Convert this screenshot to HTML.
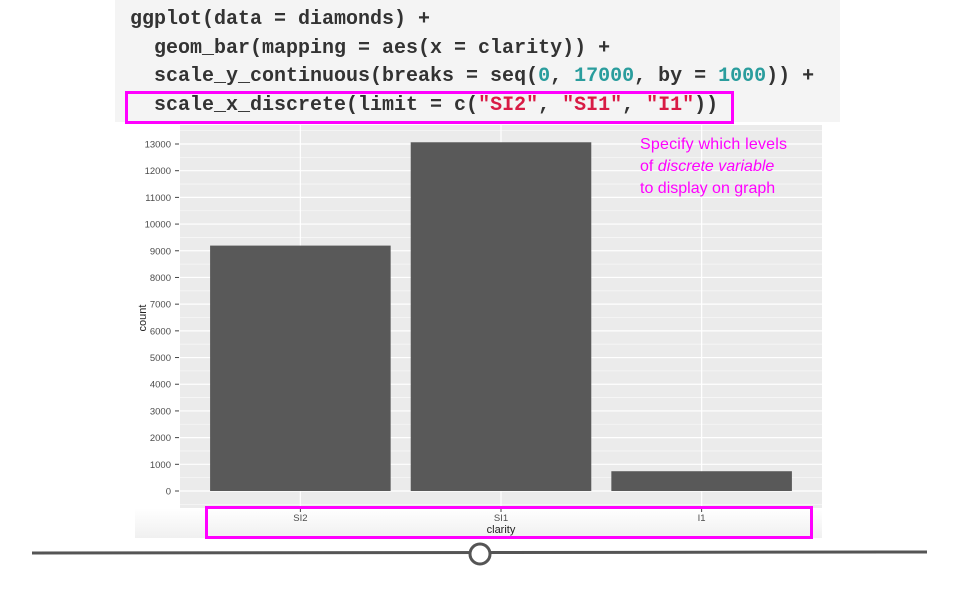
<!DOCTYPE html>
<html><head><meta charset="utf-8"><style>
body{margin:0;width:960px;height:600px;background:#fff;position:relative;overflow:hidden;font-family:"Liberation Sans",sans-serif}
#code{position:absolute;left:115px;top:0;width:725px;height:122px;background:#f4f4f4}
.cl{position:absolute;left:15px;font-family:"Liberation Mono",monospace;font-weight:bold;font-size:20px;line-height:22px;color:#333;white-space:pre}
.n{color:#2a9d9d}.s{color:#d81b45}
.box{position:absolute;border:3px solid #ff00ff;box-sizing:border-box}
</style></head><body>
<div id="code">
<div class="cl" style="top:9px">ggplot(data = diamonds) +</div>
<div class="cl" style="top:38px">  geom_bar(mapping = aes(x = clarity)) +</div>
<div class="cl" style="top:66px">  scale_y_continuous(breaks = seq(<span class="n">0</span>, <span class="n">17000</span>, by = <span class="n">1000</span>)) +</div>
<div class="cl" style="top:95px">  scale_x_discrete(limit = c(<span class="s">"SI2"</span>, <span class="s">"SI1"</span>, <span class="s">"I1"</span>))</div>
</div>
<div class="box" style="left:125px;top:91px;width:609px;height:33px"></div>
<svg id="chart" width="960" height="600" style="position:absolute;left:0;top:0">
<defs><linearGradient id="g" x1="0" y1="0" x2="0" y2="1"><stop offset="0" stop-color="#fff"/><stop offset="1" stop-color="#f0f0f0"/></linearGradient></defs>
<rect x="135" y="508" width="687" height="30" fill="url(#g)"/>
</svg>
<div class="box" style="left:205px;top:506px;width:608px;height:33px"></div>
<svg width="960" height="600" style="position:absolute;left:0;top:0">
<line x1="32" y1="553" x2="927" y2="552" stroke="#555" stroke-width="3"/>
<circle cx="480" cy="554" r="10" fill="#fff" stroke="#555" stroke-width="3"/>
</svg>
<script>
const categories=["SI2","SI1","I1"];
const counts=[9194,13065,741];
const yTicks=[0,1000,2000,3000,4000,5000,6000,7000,8000,9000,10000,11000,12000,13000];
const svg=document.getElementById('chart');
const NS='http://www.w3.org/2000/svg';
const L=180,R=822,T=125,B=508;
const y=v=>491-v*(491-144)/13000;
const band=(R-L)/(categories.length+0.2);
const x=i=>L+band*0.6+band*i;
function mk(t,a){const e=document.createElementNS(NS,t);for(const k in a)e.setAttribute(k,a[k]);svg.appendChild(e);return e;}
const p=mk('rect',{x:L,y:T,width:R-L,height:B-T,fill:'#ebebeb'});


for(let v=-500;v<=13500;v+=1000){if(y(v)>T&&y(v)<B)mk('line',{x1:L,x2:R,y1:y(v),y2:y(v),stroke:'#f7f7f7','stroke-width':0.8});}
yTicks.forEach(v=>{
mk('line',{x1:L,x2:R,y1:y(v),y2:y(v),stroke:'#fff','stroke-width':1.2});
mk('line',{x1:175,x2:179,y1:y(v),y2:y(v),stroke:'#444'});
const t=mk('text',{x:171,y:y(v)+3.5,'text-anchor':'end','font-size':'9.5','fill':'#4d4d4d','font-family':'Liberation Sans'});
t.textContent=v;


});
categories.forEach((c,i)=>{
mk('line',{x1:x(i),x2:x(i),y1:T,y2:B,stroke:'#fff','stroke-width':1.2});
});
categories.forEach((c,i)=>{
const w=band*0.9;
const b=mk('rect',{x:x(i)-w/2,y:y(counts[i]),width:w,height:y(0)-y(counts[i]),fill:'#595959'});


mk('line',{x1:x(i),x2:x(i),y1:B,y2:B+4,stroke:'#444'});
const t=mk('text',{x:x(i),y:B+13,'text-anchor':'middle','font-size':'9.5','fill':'#4d4d4d','font-family':'Liberation Sans'});
t.textContent=c;


});
const xt=mk('text',{x:(L+R)/2,y:533,'text-anchor':'middle','font-size':'11','fill':'#222','font-family':'Liberation Sans'});
xt.textContent='clarity';


const yt=mk('text',{x:0,y:0,transform:'translate(146,318) rotate(-90)','text-anchor':'middle','font-size':'11','fill':'#222','font-family':'Liberation Sans'});
yt.textContent='count';


const a1=mk('text',{x:640,y:149,'font-size':'16','fill':'#ff00ff','font-family':'Liberation Sans','textLength':'147'});a1.textContent='Specify which levels';


const a2=mk('text',{x:640,y:171,'font-size':'16','fill':'#ff00ff','font-family':'Liberation Sans'});
a2.innerHTML='of <tspan font-style="italic">discrete variable</tspan>';


const a3=mk('text',{x:640,y:193,'font-size':'16','fill':'#ff00ff','font-family':'Liberation Sans'});a3.textContent='to display on graph';


</script>
</body></html>
